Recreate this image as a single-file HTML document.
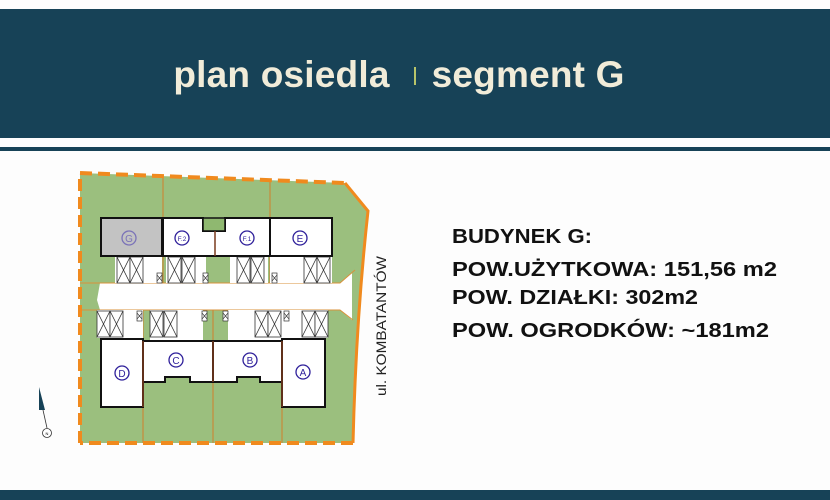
<!DOCTYPE html>
<html><head><meta charset="utf-8"><style>
html,body{margin:0;padding:0;background:#fdfdfd;width:830px;height:500px;overflow:hidden;position:relative;font-family:"Liberation Sans",sans-serif}
.hdr{position:absolute;left:0;top:9px;width:830px;height:129px;background:#174257}
.line{position:absolute;left:0;top:147px;width:830px;height:4px;background:#174257}
.bot{position:absolute;left:0;top:490px;width:830px;height:10px;background:#174257}
.title{position:absolute;left:-16px;top:54px;width:830px;text-align:center;color:#f1ecd9;font-size:37px;font-weight:bold;letter-spacing:0.2px}
.title .sep{display:inline-block;width:2px;height:18px;background:#b8c46a;margin:0 16px 0 24px;vertical-align:2px}
</style></head><body>
<div class="hdr"></div>
<div class="title">plan osiedla<span class="sep"></span>segment G</div>
<div class="line"></div>
<div class="bot"></div>
<svg width="830" height="500" style="position:absolute;left:0;top:0" font-family="Liberation Sans, sans-serif">
<defs>
<g id="x"><rect x="0" y="0" width="13" height="26" fill="#fff" stroke="#333" stroke-width="0.8"/><path d="M0 0L13 26M13 0L0 26" stroke="#333" stroke-width="0.8"/></g>
<g id="s"><rect x="0" y="0" width="5" height="10" fill="#fff" stroke="#333" stroke-width="0.7"/><path d="M0 2L5 8M5 2L0 8" stroke="#333" stroke-width="0.6"/></g>
</defs>
<path d="M80 173 L345 183 L368 211 Q356 320 353 443 L80 443 Z" fill="#9bbf7e"/>
<path d="M100 283 L340 283 L352 273 L352 320 L340 310 L100 310 L97 300 Z" fill="#fff"/>
<path d="M80 283 L340 283 L355 270 M80 310 L340 310 L353 320" stroke="#d9913a" stroke-width="1" fill="none"/>
<path d="M163 175 V283 M270 180 V283 M143 310 V443 M213 310 V443 M282 310 V443" stroke="#c98a3a" stroke-width="1.2"/>
<path d="M80 443 L80 173 L345 183" stroke="#f08a1e" stroke-width="4" fill="none" stroke-dasharray="12,6"/>
<path d="M353 443 L80 443" stroke="#f08a1e" stroke-width="4" fill="none" stroke-dasharray="12,6"/>
<path d="M345 183 L368 211 Q356 320 353 443" stroke="#f08a1e" stroke-width="3" fill="none"/>
<rect x="115" y="257" width="47" height="26" fill="#fff"/>
<rect x="166" y="257" width="40" height="26" fill="#fff"/>
<rect x="230" y="257" width="38" height="26" fill="#fff"/>
<rect x="270" y="257" width="62" height="26" fill="#fff"/>
<rect x="97" y="310" width="46" height="28" fill="#fff"/>
<rect x="150" y="310" width="53" height="30" fill="#fff"/>
<rect x="228" y="310" width="54" height="30" fill="#fff"/>
<rect x="282" y="310" width="46" height="28" fill="#fff"/>
<use href="#x" x="117" y="257"/><use href="#x" x="130" y="257"/><use href="#s" x="157" y="273"/>
<use href="#x" x="168" y="257"/><use href="#x" x="182" y="257"/><use href="#s" x="203" y="273"/>
<use href="#x" x="237" y="257"/><use href="#x" x="251" y="257"/><use href="#s" x="272" y="273"/>
<use href="#x" x="304" y="257"/><use href="#x" x="317" y="257"/>
<use href="#x" x="97" y="311"/><use href="#x" x="110" y="311"/><use href="#s" x="137" y="311"/>
<use href="#x" x="150" y="311"/><use href="#x" x="164" y="311"/><use href="#s" x="202" y="311"/>
<use href="#s" x="223" y="311"/><use href="#x" x="255" y="311"/><use href="#x" x="268" y="311"/>
<use href="#s" x="284" y="311"/><use href="#x" x="302" y="311"/><use href="#x" x="315" y="311"/>
<g stroke="#111" stroke-width="2">
<rect x="101" y="218" width="61" height="38" fill="#c3c3c3"/>
<path d="M163 218 H203 V231 H225 V218 H270 V256 H163 Z" fill="#fff"/>
<rect x="203" y="218" width="22" height="13" fill="#8fb870" stroke-width="1.5"/>
<rect x="270" y="218" width="62" height="38" fill="#fff"/>
<path d="M101 339 H143 V407 H101 Z" fill="#fff"/>
<path d="M143 341 H213 V382 H190 V377 H165 V382 H143 Z" fill="#fff"/>
<path d="M213 341 H282 V382 H260 V377 H237 V382 H213 Z" fill="#fff"/>
<path d="M282 339 H325 V407 H282 Z" fill="#fff"/>
</g>
<path d="M215 231 V256 M143 341 V407 M213 341 V382 M282 341 V407" stroke="#7a3b1e" stroke-width="1.5"/>
<g fill="none" stroke-width="1.3">
<circle cx="129" cy="238" r="7" stroke="#7a72b8"/>
<circle cx="182" cy="238" r="7" stroke="#2e1f9a"/>
<circle cx="247" cy="238" r="7" stroke="#2e1f9a"/>
<circle cx="300" cy="238" r="7" stroke="#2e1f9a"/>
<circle cx="122" cy="373" r="7" stroke="#2e1f9a"/>
<circle cx="176" cy="360" r="7" stroke="#2e1f9a"/>
<circle cx="250" cy="360" r="7" stroke="#2e1f9a"/>
<circle cx="303" cy="372" r="7" stroke="#2e1f9a"/>
</g>
<g font-size="10" text-anchor="middle" fill="#2e1f9a">
<text x="129" y="242" fill="#7a72b8">G</text>
<text x="182" y="241" font-size="6.5">F.2</text>
<text x="247" y="241" font-size="6.5">F.1</text>
<text x="300" y="242">E</text>
<text x="122" y="377">D</text>
<text x="176" y="364">C</text>
<text x="250" y="364">B</text>
<text x="303" y="376">A</text>
</g>
<text transform="translate(386,326) rotate(-90)" font-size="14" text-anchor="middle" fill="#222" textLength="140" lengthAdjust="spacingAndGlyphs">ul. KOMBATANTÓW</text>
<path d="M39 387 L39 410 L45 410 Z" fill="#174257"/>
<path d="M43 410 L47 428" stroke="#333" stroke-width="0.8"/>
<circle cx="47" cy="433" r="4.5" fill="#fff" stroke="#333" stroke-width="0.8"/>
<text x="47" y="435" font-size="4" text-anchor="middle">N</text>
<g font-size="20" font-weight="bold" fill="#111">
<text x="452" y="243" textLength="140" lengthAdjust="spacingAndGlyphs">BUDYNEK G:</text>
<text x="452" y="276" textLength="325" lengthAdjust="spacingAndGlyphs">POW.UŻYTKOWA: 151,56 m2</text>
<text x="452" y="304" textLength="246" lengthAdjust="spacingAndGlyphs">POW. DZIAŁKI: 302m2</text>
<text x="452" y="337" textLength="317" lengthAdjust="spacingAndGlyphs">POW. OGRODKÓW: ~181m2</text>
</g>
</svg>
</body></html>
